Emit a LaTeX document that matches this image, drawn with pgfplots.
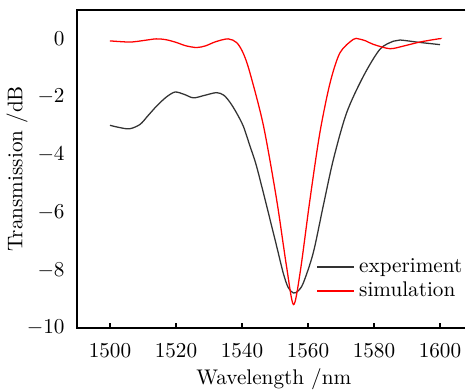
\documentclass[border=0pt]{standalone}
\usepackage{pgfplots}
\pgfplotsset{compat=1.18}
\usetikzlibrary{calc}
\begin{document}
\begin{tikzpicture}
\begin{axis}[
  scale only axis, width=186.8pt, height=150pt,
  xmin=1490, xmax=1610, ymin=-10, ymax=1,
  clip=false,
  axis line style={draw=none},
  xtick={1500,1520,...,1600}, ytick={-10,-8,...,0},
  xtick pos=bottom, tick align=inside,
  major tick length=2.36pt,
  xtick style={line width=0.55pt, black},
  ytick style={draw=none},
  xticklabel style={yshift=-3.9pt},
  yticklabel style={xshift=-2.3pt},
  x tick label style={/pgf/number format/1000 sep={}},
  xlabel={Wavelength /nm}, ylabel={Transmission /dB},
  xlabel style={at={(axis description cs:0.497,-0.160)}, anchor=center},
  ylabel style={at={(axis description cs:-0.1515,0.5)}, anchor=center},
  legend style={draw=none, fill=none, at={(axis description cs:0.604,0.233)}, anchor=north west, row sep=-1pt, inner sep=0pt},
  legend cell align=left,
  legend image code/.code={\draw[#1] (0pt,0pt) -- (17.5pt,0pt);},
]
\coordinate (bl) at (rel axis cs:0,0);
\coordinate (tr) at (rel axis cs:1,1);
\draw[line width=0.55pt, black] (rel axis cs:0.981,1) -- (rel axis cs:0,1) -- (rel axis cs:0,0) -- (rel axis cs:0.981,0);
\addplot[color=black!80, line width=0.6pt, smooth, tension=0.5] coordinates {
(1500,-2.99) (1503,-3.07) (1506,-3.11) (1509.1,-2.96) (1511.5,-2.66) (1514.1,-2.33) (1517,-2.02) (1519.7,-1.84) (1522.5,-1.92) (1525.3,-2.04) (1528.8,-1.95) (1532.3,-1.86) (1534.5,-1.95) (1536.4,-2.2) (1538.3,-2.55) (1540.4,-3.02) (1542.4,-3.7) (1544.4,-4.40) (1547.5,-5.79) (1550.5,-7.17) (1552.5,-8.1) (1554,-8.6) (1555.6,-8.79) (1557,-8.72) (1558.6,-8.44) (1561.6,-7.4) (1564.6,-5.79) (1567.7,-4.17) (1571.7,-2.56) (1576.8,-1.29) (1581.8,-0.36) (1585.9,-0.08) (1587.9,-0.04) (1592.9,-0.11) (1596,-0.15) (1600,-0.2)
};
\addlegendentry{experiment}
\addplot[color=red, line width=0.6pt, smooth, tension=0.5] coordinates {
(1500,-0.07) (1506,-0.11) (1510,-0.06) (1514,0.0) (1517,-0.03) (1520,-0.12) (1523,-0.24) (1526.3,-0.3) (1529,-0.24) (1532,-0.1) (1535.8,0.0) (1538.4,-0.13) (1540.4,-0.5) (1542.4,-1.17) (1546.5,-3.0) (1550.5,-5.56) (1553.5,-7.87) (1555.6,-9.19) (1557.6,-8.1) (1560.6,-5.56) (1563.6,-3.25) (1566.7,-1.52) (1569.7,-0.48) (1573.7,-0.02) (1575.3,0.0) (1577.5,-0.07) (1579.8,-0.19) (1584.8,-0.34) (1588.9,-0.25) (1593.9,-0.11) (1599.5,0.0) (1600,0.0)
};
\addlegendentry{simulation}
\end{axis}
\pgfresetboundingbox
\path[use as bounding box] ($(bl)+(-36.3pt,-28.8pt)$) rectangle ($(tr)+(-3.3pt,4.7pt)$);
\end{tikzpicture}
\end{document}
